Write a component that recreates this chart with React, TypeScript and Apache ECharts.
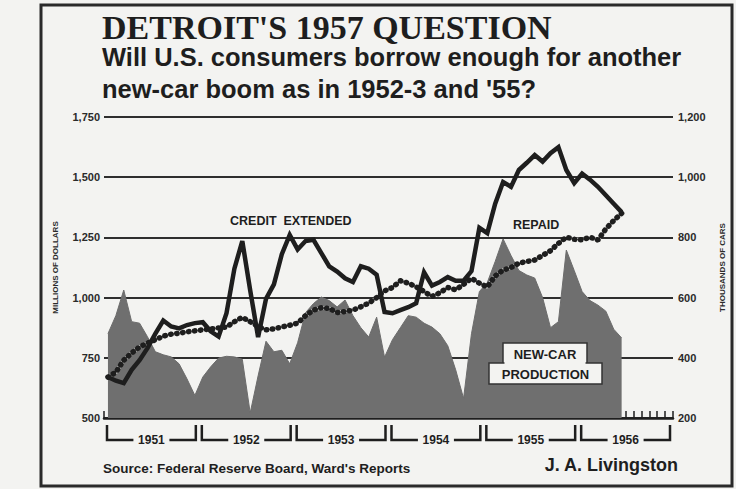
import React, { useEffect, useRef } from 'react';
import * as echarts from 'echarts';

const years = ['1951', '1952', '1953', '1954', '1955', '1956'];
const monthsPerYear = 12;

// Millions of dollars, monthly Jan 1951 - Jun 1956
const creditExtended = [
  670, 655, 645, 700, 740, 790, 850, 905, 880, 872,
  886, 894, 898, 860, 838, 935, 1120, 1235, 1030, 836,
  995, 1055, 1180, 1260, 1200, 1235, 1240, 1185, 1130, 1108,
  1080, 1065, 1130, 1120, 1095, 940, 935, 948, 960, 977,
  1105, 1050, 1065, 1085, 1070, 1070, 1110, 1290, 1268, 1390,
  1480, 1460, 1530, 1560, 1592, 1565, 1600, 1625, 1530, 1475,
  1515, 1490, 1460, 1425, 1390, 1355,
];
const repaid = [
  670, 690, 740, 770, 795, 811, 825, 840, 848, 852,
  858, 862, 866, 870, 874, 878, 900, 918, 900, 880,
  866, 870, 878, 885, 894, 925, 948, 958, 955, 938,
  942, 948, 962, 977, 1000, 1028, 1042, 1070, 1060, 1045,
  1025, 1005, 1020, 1042, 1032, 1055, 1080, 1060, 1044, 1090,
  1114, 1125, 1143, 1150, 1156, 1175, 1195, 1225, 1251, 1242,
  1240, 1251, 1239, 1285, 1320, 1350,
];
// Thousands of cars
const production = [
  480, 540, 625, 520, 515, 470, 420, 410, 403, 380,
  330, 275, 336, 370, 399, 405, 403, 395, 217, 340,
  455, 420, 425, 380, 450, 550, 580, 602, 590, 569,
  592, 540, 500, 469, 535, 402, 460, 500, 540, 535,
  515, 502, 480, 440, 360, 265, 480, 620, 650, 720,
  795, 740, 690, 675, 665, 600, 500, 520, 758, 690,
  620, 590, 575, 555, 495, 466,
];

const leftMin = 500, leftMax = 1750, leftStep = 250;
const rightMin = 200, rightMax = 1200, rightStep = 200;

const INK = '#1e1e1e';
const PAPER = '#f3f3f1';
const SANS = '"Liberation Sans", Arial, sans-serif';

export default function App() {
  const ref = useRef<HTMLDivElement>(null);

  useEffect(() => {
    if (!ref.current) return;
    const chart = echarts.init(ref.current, undefined, { renderer: 'svg' });
    const pts = (arr: number[]) => arr.map((v, i) => [i + 0.5, v]);
    const totalMonths = years.length * monthsPerYear;

    const option: any = {
      animation: false,
      backgroundColor: PAPER,
      grid: { left: 104, right: 63, top: 117, bottom: 71, containLabel: false },
      xAxis: {
        type: 'value',
        min: 0,
        max: totalMonths,
        interval: 1,
        axisLine: { show: true, lineStyle: { color: INK, width: 2.5 } },
        axisTick: { show: true, inside: true, length: 7, lineStyle: { color: INK, width: 1.5 } },
        axisLabel: { show: false },
        splitLine: { show: false },
      },
      yAxis: [
        {
          type: 'value',
          position: 'left',
          min: leftMin,
          max: leftMax,
          interval: leftStep,
          axisLine: { show: false },
          axisTick: { show: false },
          axisLabel: {
            margin: 4,
            color: '#2a2a2a',
            fontFamily: SANS,
            fontWeight: 'bold',
            fontSize: 11,
            formatter: (v: number) => v.toLocaleString('en-US'),
          },
          splitLine: { show: true, lineStyle: { color: '#2e2e2e', width: 2 } },
          name: 'MILLIONS OF DOLLARS',
          nameLocation: 'middle',
          nameRotate: 90,
          nameGap: 45,
          nameTextStyle: { color: '#2a2a2a', fontFamily: SANS, fontWeight: 'bold', fontSize: 8 },
        },
        {
          type: 'value',
          position: 'right',
          min: rightMin,
          max: rightMax,
          interval: rightStep,
          axisLine: { show: false },
          axisTick: { show: false },
          axisLabel: {
            margin: 5,
            color: '#2a2a2a',
            fontFamily: SANS,
            fontWeight: 'bold',
            fontSize: 11,
            formatter: (v: number) => v.toLocaleString('en-US'),
          },
          splitLine: { show: false },
          name: 'THOUSANDS OF CARS',
          nameLocation: 'middle',
          nameRotate: 90,
          nameGap: 45,
          nameTextStyle: { color: '#2a2a2a', fontFamily: SANS, fontWeight: 'bold', fontSize: 8 },
        },
      ],
      series: [
        {
          name: 'New-car production',
          type: 'line',
          yAxisIndex: 1,
          data: pts(production),
          symbol: 'none',
          lineStyle: { width: 1, color: '#6c6c6c' },
          areaStyle: { color: '#6f6f6f', opacity: 1, origin: 'start' },
          z: 1,
          silent: true,
        },
        {
          name: 'Repaid halo',
          type: 'line',
          data: pts(repaid),
          symbol: 'none',
          lineStyle: { width: 3.5, color: PAPER },
          z: 3,
          silent: true,
        },
        {
          name: 'Repaid',
          type: 'line',
          data: pts(repaid),
          symbol: 'none',
          lineStyle: { width: 5.5, color: INK, type: [0.5, 5.5], cap: 'round' },
          z: 4,
          silent: true,
        },
        {
          name: 'Credit extended',
          type: 'line',
          data: pts(creditExtended),
          symbol: 'none',
          lineStyle: { width: 4.5, color: INK, join: 'miter' },
          z: 5,
          silent: true,
        },
        {
          name: 'Years',
          type: 'custom',
          data: years.map((y, k) => [k * monthsPerYear, leftMin, (k + 1) * monthsPerYear]),
          encode: { x: [0, 2], y: 1 },
          clip: false,
          silent: true,
          z: 6,
          renderItem: (params: any, api: any) => {
            const a = api.coord([api.value(0), api.value(1)]);
            const b = api.coord([api.value(2), api.value(1)]);
            const x0 = a[0] + 3;
            const x1 = b[0] - 3;
            const y0 = a[1] + 7;
            const yb = a[1] + 22;
            const cx = (x0 + x1) / 2;
            const half = 18;
            return {
              type: 'group',
              children: [
                {
                  type: 'polyline',
                  shape: { points: [[x0, y0], [x0, yb], [cx - half, yb]] },
                  style: { stroke: INK, lineWidth: 2.5, fill: null },
                },
                {
                  type: 'polyline',
                  shape: { points: [[cx + half, yb], [x1, yb], [x1, y0]] },
                  style: { stroke: INK, lineWidth: 2.5, fill: null },
                },
                {
                  type: 'text',
                  style: {
                    text: years[params.dataIndex],
                    x: cx,
                    y: yb,
                    align: 'center',
                    verticalAlign: 'middle',
                    fill: INK,
                    font: `bold 12px ${SANS}`,
                  },
                },
              ],
            };
          },
        },
      ],
      graphic: [
        {
          type: 'rect',
          shape: { x: 41, y: 5, width: 691, height: 481 },
          style: { fill: null, stroke: '#2a2a2a', lineWidth: 3 },
          z: 10,
        },
        {
          type: 'text',
          x: 102,
          y: 27,
          style: {
            text: "DETROIT'S 1957 QUESTION",
            fill: INK,
            font: 'bold 34px "Liberation Serif", serif',
            verticalAlign: 'middle',
          },
        },
        {
          type: 'text',
          x: 102,
          y: 57,
          style: {
            text: 'Will U.S. consumers borrow enough for another',
            fill: INK,
            font: `bold 25.5px ${SANS}`,
            verticalAlign: 'middle',
          },
        },
        {
          type: 'text',
          x: 102,
          y: 89,
          style: {
            text: "new-car boom as in 1952-3 and '55?",
            fill: INK,
            font: `bold 25.5px ${SANS}`,
            verticalAlign: 'middle',
          },
        },
        {
          type: 'text',
          x: 230,
          y: 221,
          style: { text: 'CREDIT  EXTENDED', fill: INK, font: `bold 12.5px ${SANS}`, verticalAlign: 'middle' },
          z: 7,
        },
        {
          type: 'text',
          x: 513,
          y: 225,
          style: { text: 'REPAID', fill: INK, font: `bold 12.5px ${SANS}`, verticalAlign: 'middle' },
          z: 7,
        },
        {
          type: 'rect',
          shape: { x: 503, y: 343, width: 84, height: 21 },
          style: { fill: PAPER, stroke: '#333', lineWidth: 1.5 },
          z: 7,
        },
        {
          type: 'rect',
          shape: { x: 489, y: 363, width: 113, height: 21 },
          style: { fill: PAPER, stroke: '#333', lineWidth: 1.5 },
          z: 7,
        },
        {
          type: 'rect',
          shape: { x: 504.5, y: 361, width: 81, height: 4 },
          style: { fill: PAPER, stroke: null },
          z: 8,
        },
        {
          type: 'text',
          x: 545,
          y: 354,
          style: { text: 'NEW-CAR', fill: INK, font: `bold 13px ${SANS}`, align: 'center', verticalAlign: 'middle' },
          z: 9,
        },
        {
          type: 'text',
          x: 545.5,
          y: 374,
          style: { text: 'PRODUCTION', fill: INK, font: `bold 13px ${SANS}`, align: 'center', verticalAlign: 'middle' },
          z: 9,
        },
        {
          type: 'text',
          x: 103,
          y: 468,
          style: {
            text: "Source: Federal Reserve Board, Ward's Reports",
            fill: INK,
            font: `bold 13.5px ${SANS}`,
            verticalAlign: 'middle',
          },
        },
        {
          type: 'text',
          x: 678,
          y: 465,
          style: {
            text: 'J. A. Livingston',
            fill: INK,
            font: `bold 18px ${SANS}`,
            align: 'right',
            verticalAlign: 'middle',
          },
        },
      ],
    };

    chart.setOption(option);
    return () => chart.dispose();
  }, []);

  return (
    <div
      ref={ref}
      style={{ position: 'absolute', left: 0, top: 0, width: 736, height: 489 }}
    />
  );
}
